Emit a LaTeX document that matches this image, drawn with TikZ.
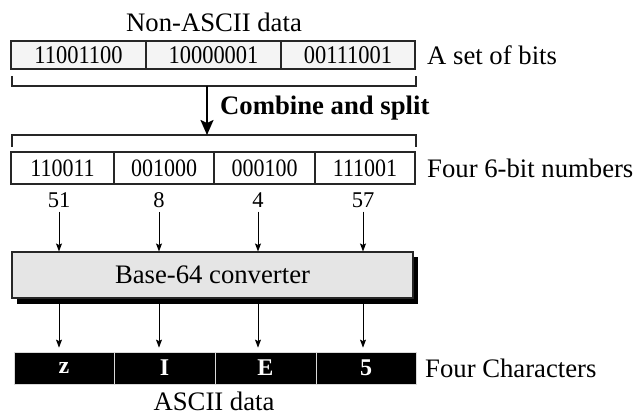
\documentclass[tikz,border=0pt]{standalone}
\usepackage{fontspec}
\setmainfont{Liberation Serif}
\newfontfamily\narrowdigits[FakeStretch=0.88]{Liberation Serif}
\usetikzlibrary{arrows.meta,calc}

\tikzset{
  lbl/.style={inner sep=0pt, font=\fontsize{26.7}{30}\selectfont},
  bits/.style={draw=black!85, line width=1.1pt, fill=gray!9, inner sep=0pt,
    minimum height=28pt, font=\narrowdigits\fontsize{25.5}{28}\selectfont},
  sixbits/.style={draw=black!85, line width=1.1pt, fill=white, inner sep=0pt,
    minimum height=32pt, font=\narrowdigits\fontsize{25}{28}\selectfont},
  num/.style={inner sep=0pt, font=\fontsize{22.5}{26}\selectfont},
  chr/.style={fill=black, draw=white!85!black, line width=0.8pt, inner sep=0pt,
    minimum height=32pt, text=white, font=\bfseries\fontsize{24}{28}\selectfont},
  conv/.style={draw=black!85, line width=1.1pt, fill=gray!20, inner sep=0pt,
    minimum width=401pt, minimum height=46pt, font=\fontsize{26.7}{30}\selectfont},
  thin/.style={line width=0.9pt, -{Stealth[length=8pt,width=6pt,inset=1.5pt]}},
  brace/.style={line width=1.1pt, black!85},
}

\begin{document}
\begin{tikzpicture}[x=1pt, y=-1pt]
\useasboundingbox (0,0) rectangle (634,417);

% input bytes
\node[lbl] (nonascii) at (214,22) {Non-ASCII data};
\node[bits, minimum width=135pt] (b1) at (78.5,55) {11001100};
\node[bits, minimum width=135pt] (b2) at (213.5,55) {10000001};
\node[bits, minimum width=134pt] (b3) at (348,55) {00111001};
\node[lbl, anchor=west] (setbits) at (427,55) {A set of bits};

% grouping brackets
\coordinate (ba) at (12,76);
\coordinate (bb) at (12,86);
\coordinate (bc) at (416,86);
\coordinate (bd) at (416,76);
\draw[brace] (ba) -- (bb) -- (bc) -- (bd);
\coordinate (ca) at (12,147);
\coordinate (cb) at (12,135);
\coordinate (cc) at (416,135);
\coordinate (cd) at (416,147);
\draw[brace] (ca) -- (cb) -- (cc) -- (cd);

% combine and split
\coordinate (splittop) at (207,86);
\coordinate (splitbot) at (207,135);
\draw[line width=2pt, -{Stealth[length=15pt,width=13pt,inset=3pt]}] (splittop) -- (splitbot);
\node[lbl, anchor=west, font=\bfseries\fontsize{26.7}{30}\selectfont] (combine) at (220,108) {Combine and split};

% 6-bit groups
\node[sixbits, minimum width=103pt] (s1) at (62.5,168) {110011};
\node[sixbits, minimum width=100pt] (s2) at (164,168) {001000};
\node[sixbits, minimum width=101pt] (s3) at (264.5,168) {000100};
\node[sixbits, minimum width=100pt] (s4) at (365,168) {111001};
\node[lbl, anchor=west] (fourbits) at (427,168) {Four 6-bit numbers};

\node[num] (n1) at (59,200) {51};
\node[num] (n2) at (159,200) {8};
\node[num] (n3) at (258,200) {4};
\node[num] (n4) at (363,200) {57};

% converter with drop shadow
\fill[black] (17,257) rectangle (418,304);
\node[conv] (conv) at (212.5,275) {Base-64 converter};
\coordinate (convbot) at (212.5,304);

\foreach \i in {1,...,4}{
  \draw[thin] ($(n\i.south)+(0,4)$) -- (n\i.south |- conv.north);
}

% output characters
\node[chr, minimum width=100pt] (c1) at (64,368) {z};
\node[chr, minimum width=101pt] (c2) at (164.5,368) {I};
\node[chr, minimum width=101pt] (c3) at (265.5,368) {E};
\node[chr, minimum width=100pt] (c4) at (366,368) {5};
\node[lbl, anchor=west] (fourchars) at (425,368) {Four Characters};
\node[lbl] (ascii) at (214,401) {ASCII data};

\foreach \i in {1,...,4}{
  \draw[thin, shorten >=4pt] (n\i.south |- convbot) -- (n\i.south |- c1.north);
}
\end{tikzpicture}
\end{document}
